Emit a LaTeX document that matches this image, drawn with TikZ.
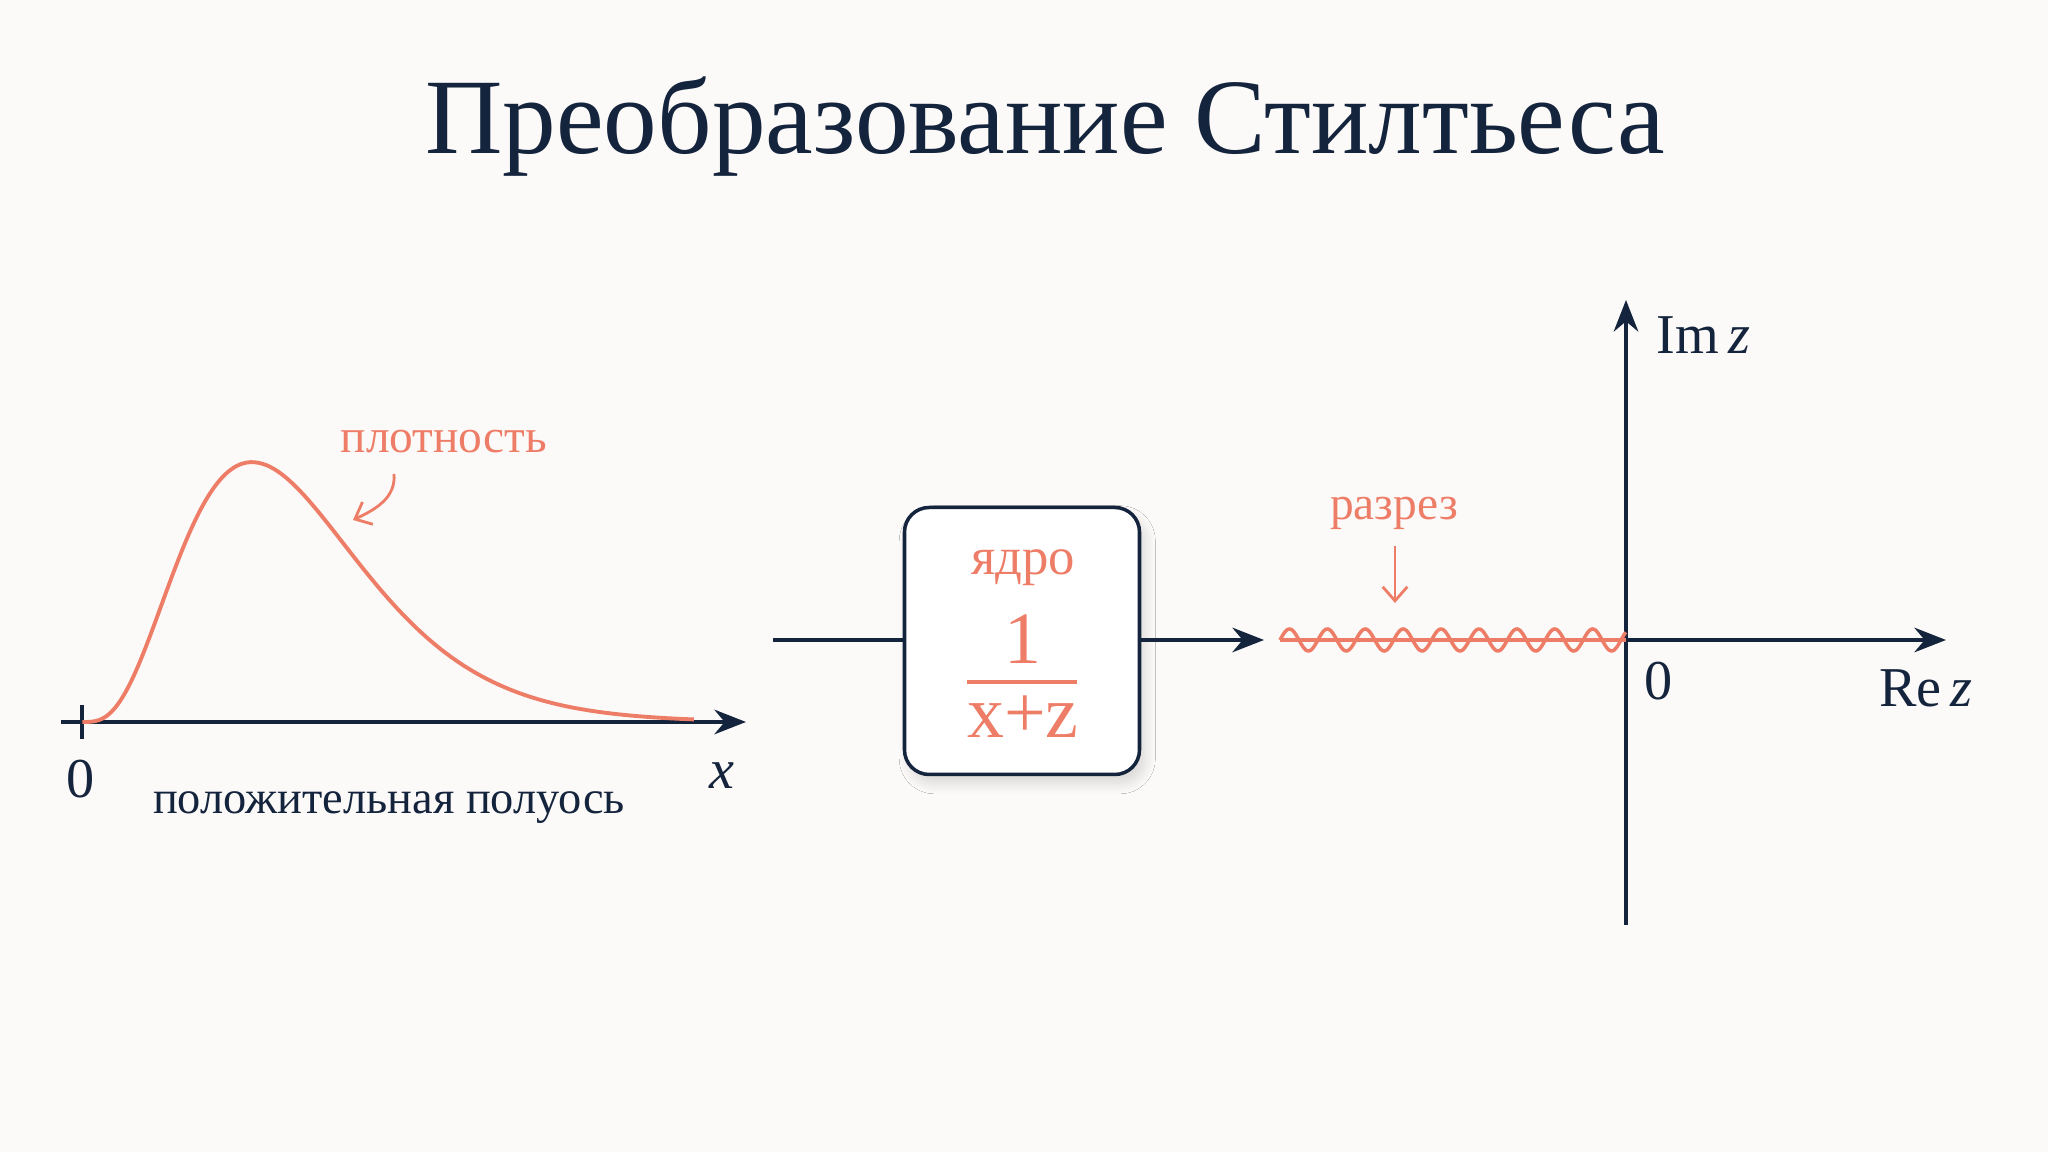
\documentclass[tikz,border=0pt]{standalone}
\usepackage{fontspec}
\setmainfont{Liberation Serif}
\usetikzlibrary{arrows.meta,shadows.blur}
\definecolor{navy}{HTML}{15243D}
\definecolor{coral}{HTML}{EE7D67}
\definecolor{paper}{HTML}{FBFAF8}
\newcommand{\fs}[1]{\fontsize{#1pt}{#1pt}\selectfont}
\tikzset{
  axisline/.style={draw=navy,line width=1pt,-{Stealth[length=9pt,width=7pt]}},
  hintarrow/.style={draw=coral,line width=0.8pt,-{Straight Barb[length=4pt,width=7pt]}},
  kernelbox/.style={draw=navy,line width=1pt,fill=white,rounded corners=7pt,
    minimum width=2.35cm,minimum height=2.67cm,
    blur shadow={shadow xshift=1.5pt,shadow yshift=-2.5pt,shadow blur radius=3pt,shadow blur steps=12,shadow opacity=14}},
  navytext/.style={text=navy,inner sep=0pt,anchor=base},
  coraltext/.style={text=coral,inner sep=0pt,anchor=base},
}
\begin{document}
\begin{tikzpicture}[>=stealth]
	\fill[paper] (0,0) rectangle (20.48,11.52);
	\node[navytext,font=\fs{30.5}] (title) at (10.45,9.98) {Преобразование Стилтьеса};
	% density on the half axis
	\path (0.61,4.30) coordinate (Xbeg);
	\path (0.82,4.30) coordinate (O);
	\path (7.46,4.30) coordinate (Xend);
	\draw[axisline] (Xbeg) -- (Xend);
	\draw[navy,line width=1pt] (0.82,4.47) -- (0.82,4.13);
	\draw[coral,line width=1.1pt] plot[domain=0.01:12.6,samples=150,smooth] ({0.82+0.4857*\x},{4.30+1.0734*exp(3.5*ln(\x)-\x)});
	\node[navytext,font=\fs{16}] (zeroL) at (0.81,3.54) {0};
	\node[navytext,font=\fs{16}] (xlab) at (7.22,3.63) {\textit{x}};
	\node[navytext,font=\fs{13.2}] (halfaxis) at (3.89,3.38) {положительная полуось};
	\node[coraltext,font=\fs{13.5}] (dens) at (4.44,6.99) {плотность};
	\path (3.94,6.78) coordinate (D1);
	\path (3.53,6.32) coordinate (D2);
	\draw[hintarrow] (D1) to[out=-85,in=25] (D2);
	% kernel
	\node[kernelbox] (kernel) at (10.22,5.11) {};
	\path (7.73,5.12) coordinate (Ain);
	\path (12.64,5.12) coordinate (Aout);
	\draw[navy,line width=1pt] (Ain) -- (Ain-|kernel.west);
	\draw[axisline] (Aout-|kernel.east) -- (Aout);
	\node[coraltext,font=\fs{15}] (core) at (10.23,5.77) {ядро};
	\node[coraltext,font=\fs{21}] (num) at (10.23,4.88) {1};
	\draw[coral,line width=1pt] (9.67,4.70) -- (10.77,4.70);
	\node[coraltext,font=\fs{21}] (den) at (10.23,4.14) {x+z};
	% complex plane
	\path (16.26,2.27) coordinate (ImBot);
	\path (16.26,8.52) coordinate (ImTop);
	\path (16.26,5.12) coordinate (Z);
	\path (19.46,5.12) coordinate (ReEnd);
	\path (12.80,5.12) coordinate (Cut);
	\draw[axisline] (ImBot) -- (ImTop);
	\draw[axisline] (Z) -- (ReEnd);
	\draw[coral,line width=1.1pt] (Cut) -- (Z);
	\draw[coral,line width=1pt] plot[domain=12.80:16.26,samples=240,smooth] (\x,{5.12+0.11*sin(950*(\x-12.80))});
	\node[coraltext,font=\fs{13.5}] (cutlab) at (13.94,6.32) {разрез};
	\path (13.95,6.06) coordinate (C1);
	\path (13.95,5.49) coordinate (C2);
	\draw[hintarrow] (C1) -- (C2);
	\node[navytext,font=\fs{16},anchor=base west] (imlab) at (16.56,7.98) {Im\,\textit{z}};
	\node[navytext,font=\fs{16}] (zeroR) at (16.59,4.52) {0};
	\node[navytext,font=\fs{16}] (relab) at (19.26,4.45) {Re\,\textit{z}};
\end{tikzpicture}
\end{document}
